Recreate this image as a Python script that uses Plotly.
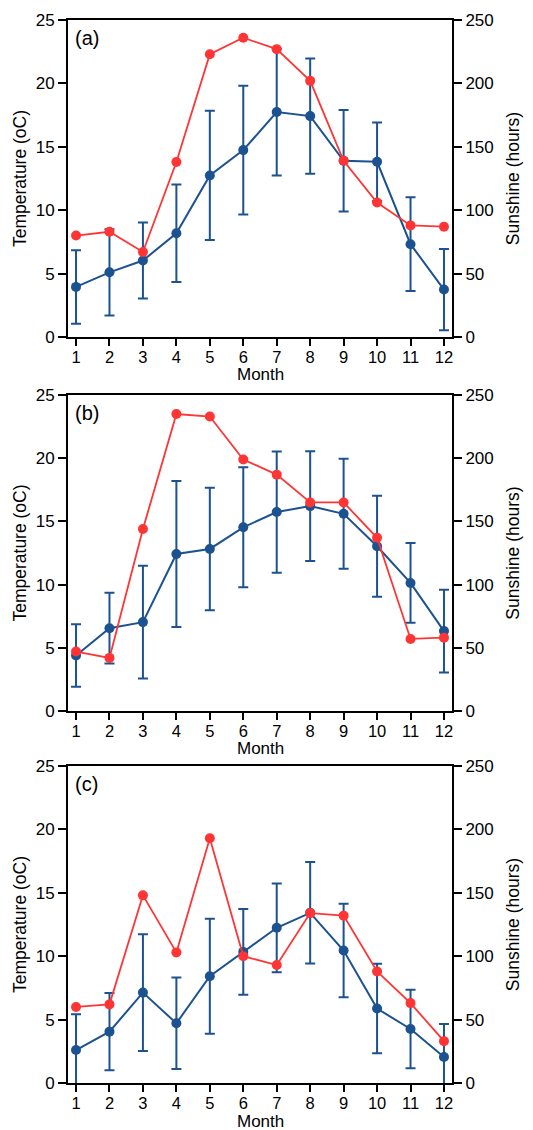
import plotly.graph_objects as go

months = list(range(1, 13))
month_labels = [str(m) for m in months]

# Panel (a)
temp_a = [3.95, 5.1, 6.03, 8.18, 12.74, 14.74, 17.74, 17.42, 13.9, 13.82, 7.32, 3.74]
err_a = [2.9, 3.4, 3.0, 3.85, 5.1, 5.08, 5.0, 4.54, 4.0, 3.1, 3.7, 3.2]
sun_a = [80, 83, 67, 138, 223, 236, 227, 202, 139, 106, 88, 87]

# Panel (b)
temp_b = [4.39, 6.55, 7.03, 12.42, 12.82, 14.53, 15.74, 16.21, 15.6, 13.03, 10.13, 6.32]
err_b = [2.48, 2.8, 4.46, 5.77, 4.85, 4.75, 4.8, 4.35, 4.35, 4.0, 3.16, 3.28]
sun_b = [47, 42, 144, 235, 233, 199, 187, 165, 165, 137, 57, 58]

# Panel (c)
temp_c = [2.6, 4.05, 7.13, 4.71, 8.42, 10.34, 12.24, 13.42, 10.45, 5.87, 4.26, 2.05]
err_c = [2.83, 3.05, 4.6, 3.61, 4.54, 3.38, 3.5, 4.0, 3.68, 3.53, 3.1, 2.6]
sun_c = [60, 62, 148, 103, 193, 100, 93, 134, 132, 88, 63, 33]

panels = [("(a)", temp_a, err_a, sun_a),
          ("(b)", temp_b, err_b, sun_b),
          ("(c)", temp_c, err_c, sun_c)]

BLUE = "#1C5290"
RED = "#FF3535"
FONT = "Liberation Sans, Arial, sans-serif"

domains = [[0.7018, 1.0], [0.35, 0.6472], [0.0, 0.2982]]

fig = go.Figure()
layout = dict(
    width=533, height=1130,
    margin=dict(l=68, r=81, t=20, b=47, autoexpand=False),
    paper_bgcolor="white", plot_bgcolor="white",
    showlegend=False,
    font=dict(family=FONT, size=16, color="black"),
)
annotations = []

for i, (label, temp, err, sun) in enumerate(panels):
    xn = "" if i == 0 else str(i + 1)
    yl = "" if i == 0 else str(2 * i + 1)
    yr = str(2 * i + 2)
    fig.add_trace(go.Scatter(
        x=months, y=temp, mode="lines+markers",
        line=dict(color=BLUE, width=2), marker=dict(color=BLUE, size=10),
        error_y=dict(type="data", array=err, visible=True, color=BLUE,
                     thickness=2, width=5),
        cliponaxis=False,
        xaxis="x" + xn, yaxis="y" + yl,
    ))
    fig.add_trace(go.Scatter(
        x=months, y=sun, mode="lines+markers",
        line=dict(color=RED, width=1.8), marker=dict(color=RED, size=10),
        cliponaxis=False,
        xaxis="x" + xn, yaxis="y" + yr,
    ))
    layout["xaxis" + xn] = dict(
        domain=[0, 1], anchor="y" + yl, range=[0.76, 12.24],
        tickmode="array", tickvals=months, ticktext=month_labels,
        ticks="outside", ticklen=7, tickwidth=1.5, tickcolor="black",
        showline=True, linecolor="black", linewidth=2, mirror=True,
        showgrid=False, zeroline=False,
        ticklabelstandoff=-3,
        tickfont=dict(size=16.5),
    )
    layout["yaxis" + yl] = dict(
        domain=domains[i], anchor="x" + xn, range=[0, 25],
        tickmode="array", tickvals=[0, 5, 10, 15, 20, 25],
        ticks="outside", ticklen=8, tickwidth=1.5, tickcolor="black",
        showline=True, linecolor="black", linewidth=2,
        showgrid=False, zeroline=False,
        title=dict(text="Temperature (oC)", standoff=5, font=dict(size=17.5)),
        tickfont=dict(size=17),
    )
    layout["yaxis" + yr] = dict(
        overlaying="y" + yl, side="right", anchor="x" + xn, range=[0, 250],
        tickmode="array", tickvals=[0, 50, 100, 150, 200, 250],
        ticks="outside", ticklen=8, tickwidth=1.5, tickcolor="black",
        showline=True, linecolor="black", linewidth=2,
        showgrid=False, zeroline=False,
        title=dict(text="Sunshine (hours)", standoff=14, font=dict(size=17.5)),
        tickfont=dict(size=17),
    )
    annotations.append(dict(
        text=label, xref="x" + xn + " domain", yref="y" + yl + " domain",
        x=0.012, y=0.985, xanchor="left", yanchor="top", showarrow=False,
        font=dict(size=20, family=FONT, color="black"),
    ))
    annotations.append(dict(
        text="Month", xref="x" + xn + " domain", yref="y" + yl + " domain",
        x=0.5, y=0, xanchor="center", yanchor="middle", yshift=-38,
        showarrow=False, borderpad=0,
        font=dict(size=17, family=FONT, color="black"),
    ))

layout["annotations"] = annotations
fig.update_layout(**layout)
fig.write_html("out.html",
               config={"displayModeBar": False},
               post_script="document.body.style.margin='0px';document.body.style.overflow='hidden';")
